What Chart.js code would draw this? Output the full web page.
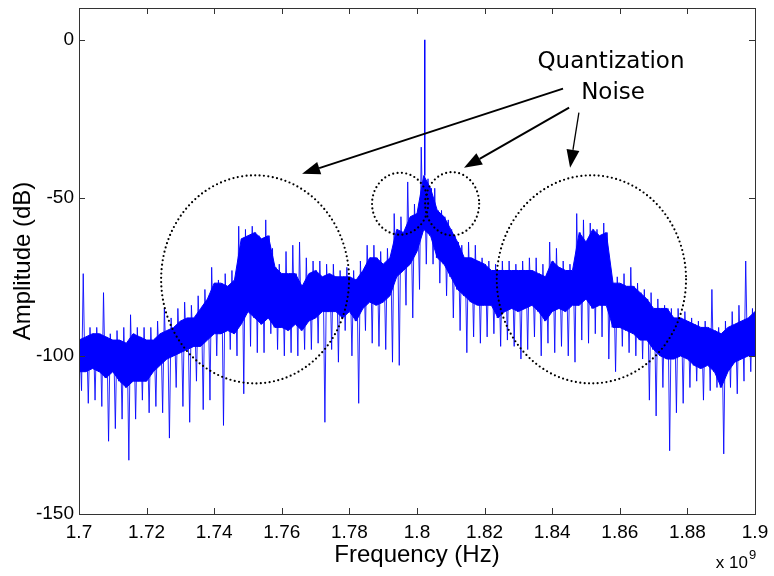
<!DOCTYPE html>
<html lang="en">
<head>
<meta charset="UTF-8">
<title>Quantization Noise Spectrum</title>
<script src="https://cdn.jsdelivr.net/npm/chart.js"></script>
<style>
  body { margin: 0; background: #fff; }
  canvas { display: block; }
</style>
</head>
<body>
<canvas id="spectrum" width="774" height="576"></canvas>
<script>
// frequency bins, in units of 10^9 Hz
const freqs = [
  1.700, 1.702, 1.704, 1.706, 1.708, 1.710, 1.712, 1.714, 1.716, 1.718,
  1.720, 1.722, 1.724, 1.726, 1.728, 1.730, 1.732, 1.734, 1.736, 1.738,
  1.740, 1.742, 1.744, 1.746, 1.748, 1.750, 1.752, 1.754, 1.756, 1.758,
  1.760, 1.762, 1.764, 1.766, 1.768, 1.770, 1.772, 1.774, 1.776, 1.778,
  1.780, 1.782, 1.784, 1.786, 1.788, 1.790, 1.792, 1.794, 1.796, 1.798,
  1.800, 1.802, 1.804, 1.806, 1.808, 1.810, 1.812, 1.814, 1.816, 1.818,
  1.820, 1.822, 1.824, 1.826, 1.828, 1.830, 1.832, 1.834, 1.836, 1.838,
  1.840, 1.842, 1.844, 1.846, 1.848, 1.850, 1.852, 1.854, 1.856, 1.858,
  1.860, 1.862, 1.864, 1.866, 1.868, 1.870, 1.872, 1.874, 1.876, 1.878,
  1.880, 1.882, 1.884, 1.886, 1.888, 1.890, 1.892, 1.894, 1.896, 1.898,
  1.900
];

// upper edge of the dense noise band (dB)
const coreTop = [
  -95, -94, -93, -93, -94, -95, -95, -96, -93, -94,
  -95, -95, -93, -92, -91, -89, -88, -88, -85, -82,
  -77, -77, -78, -76, -63, -62, -61, -63, -62, -72,
  -74, -74, -74, -78, -74, -73, -75, -74, -75, -75,
  -75, -76, -73, -69, -69, -71, -69, -60, -61, -56,
  -55, -43, -47, -54, -56, -60, -64, -69, -69, -70,
  -71, -73, -73, -73, -73, -73, -73, -73, -74, -75,
  -70, -72, -73, -73, -61, -64, -60, -62, -61, -77,
  -77, -78, -78, -80, -82, -85, -85, -85, -88, -88,
  -89, -90, -91, -91, -92, -93, -91, -90, -89, -88,
  -86
];

// lower edge of the dense noise band (dB)
const coreBot = [
  -105, -105, -104, -105, -107, -105, -108, -110, -108, -108,
  -108, -105, -103, -101, -100, -99, -98, -97, -97, -95,
  -93, -93, -92, -93, -90, -86, -88, -90, -88, -91,
  -91, -92, -90, -92, -89, -88, -86, -86, -86, -88,
  -86, -89, -85, -83, -84, -83, -81, -75, -73, -71,
  -67, -60, -62, -69, -71, -75, -79, -81, -83, -84,
  -84, -84, -88, -86, -85, -86, -85, -84, -86, -89,
  -86, -85, -86, -84, -84, -82, -85, -84, -84, -91,
  -91, -92, -93, -95, -95, -98, -100, -101, -101, -100,
  -101, -103, -104, -103, -105, -110, -105, -102, -101, -100,
  -100
];

// highest spike in each bin (dB)
const tipHi = [
  -93, -74, -91, -91, -80, -93, -92, -91, -87, -91,
  -91, -91, -89, -85, -88, -85, -83, -84, -81, -79,
  -72, -76, -74, -73, -59, -60, -59, -62, -57, -66,
  -71, -67, -65, -64, -69, -70, -70, -71, -71, -73,
  -72, -73, -70, -65, -65, -67, -66, -55, -56, -45,
  -52, -34, -44, -47, -54, -57, -62, -65, -64, -65,
  -69, -70, -71, -70, -70, -71, -70, -69, -69, -71,
  -64, -66, -70, -71, -55, -57, -58, -60, -58, -72,
  -75, -74, -72, -77, -79, -80, -82, -84, -85, -85,
  -86, -88, -89, -89, -79, -91, -89, -86, -84, -70,
  -85
];

// deepest dip in each bin (dB)
const tipLo = [
  -111, -115, -114, -116, -127, -123, -120, -133, -120, -114,
  -118, -116, -118, -126, -110, -116, -121, -108, -117, -114,
  -100, -122, -98, -100, -112, -97, -99, -99, -93, -98,
  -100, -99, -100, -98, -98, -96, -121, -98, -102, -92,
  -100, -115, -92, -96, -97, -98, -102, -103, -84, -88,
  -79, -71, -71, -77, -81, -88, -92, -99, -94, -96,
  -94, -93, -97, -95, -97, -101, -98, -94, -100, -96,
  -99, -97, -100, -102, -95, -96, -93, -94, -101, -105,
  -97, -99, -100, -101, -114, -119, -110, -130, -118, -115,
  -110, -108, -114, -111, -110, -131, -110, -112, -108, -105,
  -101
];

// the carrier tone
const carrierFreq = 1.8023;
const carrierLevel = 0;

const xTicks = [1.7, 1.72, 1.74, 1.76, 1.78, 1.8, 1.82, 1.84, 1.86, 1.88, 1.9];
const yTicks = [-150, -100, -50, 0];

// dotted rings: centre and radii in data units
const rings = [
  { f: 1.7521, db: -75.8, rf: 0.0278, rdb: 32.9 },
  { f: 1.8516, db: -75.8, rf: 0.0280, rdb: 32.9 },
  { f: 1.7950, db: -51.9, rf: 0.0083, rdb: 9.8 },
  { f: 1.8104, db: -51.9, rf: 0.0080, rdb: 10.0 }
];

const arrows = [
  { from: [1.8432, -15.5], to: [1.7660, -42.4], w: 2 },
  { from: [1.8450, -21.5], to: [1.8139, -40.5], w: 2 },
  { from: [1.8479, -23.1], to: [1.8453, -40.5], w: 1.3 }
];

const noteLines = [
  { text: 'Quantization', f: 1.8574, db: -8.9 },
  { text: 'Noise', f: 1.8580, db: -18.7 }
];

// trace that runs tip -> band bottom -> band top -> dip in every bin,
// so the band reads as a dense noisy trace
const trace = [];
freqs.forEach((f, i) => {
  trace.push({ x: f - 0.00075, y: tipHi[i] });
  trace.push({ x: f - 0.00025, y: coreBot[i] });
  trace.push({ x: f + 0.00025, y: coreTop[i] });
  trace.push({ x: f + 0.00075, y: tipLo[i] });
});

const carrierLine = [
  { x: carrierFreq, y: coreTop[freqs.indexOf(1.802)] },
  { x: carrierFreq, y: carrierLevel }
];

function drawArrow(ctx, x1, y1, x2, y2, lw, len, half) {
  const ang = Math.atan2(y2 - y1, x2 - x1);
  const bx = x2 - len * Math.cos(ang);
  const by = y2 - len * Math.sin(ang);
  ctx.lineWidth = lw;
  ctx.beginPath();
  ctx.moveTo(x1, y1);
  ctx.lineTo(bx, by);
  ctx.stroke();
  ctx.beginPath();
  ctx.moveTo(x2, y2);
  ctx.lineTo(bx + half * Math.sin(ang), by - half * Math.cos(ang));
  ctx.lineTo(bx - half * Math.sin(ang), by + half * Math.cos(ang));
  ctx.closePath();
  ctx.fill();
}

const overlay = {
  id: 'overlay',
  afterDatasetsDraw(chart) {
    const { ctx, chartArea: a, scales: { x, y } } = chart;
    ctx.save();

    // frame and inward ticks (matlab style)
    ctx.strokeStyle = '#333';
    ctx.lineWidth = 1;
    ctx.strokeRect(a.left + 0.5, a.top + 0.5, a.right - a.left, a.bottom - a.top);
    ctx.beginPath();
    xTicks.slice(1, -1).forEach(v => {
      const px = Math.round(x.getPixelForValue(v)) + 0.5;
      ctx.moveTo(px, a.bottom); ctx.lineTo(px, a.bottom - 6);
      ctx.moveTo(px, a.top); ctx.lineTo(px, a.top + 6);
    });
    yTicks.forEach(v => {
      const py = Math.round(y.getPixelForValue(v)) + 0.5;
      if (py > a.bottom - 1) return;
      ctx.moveTo(a.left, py); ctx.lineTo(a.left + 6, py);
      ctx.moveTo(a.right, py); ctx.lineTo(a.right - 6, py);
    });
    ctx.stroke();

    // dotted rings
    ctx.strokeStyle = '#000';
    ctx.lineWidth = 2.2;
    ctx.lineCap = 'round';
    ctx.setLineDash([0, 4.4]);
    rings.forEach(r => {
      const cx = x.getPixelForValue(r.f);
      const cy = y.getPixelForValue(r.db);
      const rx = x.getPixelForValue(r.f + r.rf) - cx;
      const ry = y.getPixelForValue(r.db - r.rdb) - cy;
      ctx.beginPath();
      ctx.ellipse(cx, cy, rx, ry, 0, 0, Math.PI * 2);
      ctx.stroke();
    });
    ctx.setLineDash([]);
    ctx.lineCap = 'butt';

    // arrows
    ctx.fillStyle = '#000';
    arrows.forEach(ar => {
      drawArrow(ctx,
        x.getPixelForValue(ar.from[0]), y.getPixelForValue(ar.from[1]),
        x.getPixelForValue(ar.to[0]), y.getPixelForValue(ar.to[1]),
        ar.w, 18, 6.5);
    });

    // note text
    ctx.font = "23px 'DejaVu Sans'";
    ctx.textAlign = 'center';
    ctx.textBaseline = 'alphabetic';
    noteLines.forEach(n => {
      ctx.fillText(n.text, x.getPixelForValue(n.f), y.getPixelForValue(n.db));
    });

    // axis multiplier
    ctx.font = "17px 'Liberation Sans'";
    ctx.textAlign = 'right';
    ctx.fillText('x 10', a.right - 7, a.bottom + 54);
    ctx.font = "13px 'Liberation Sans'";
    ctx.textAlign = 'left';
    ctx.fillText('9', a.right - 6, a.bottom + 45);

    ctx.restore();
  }
};

Chart.defaults.font.family = "'Liberation Sans', Arial, sans-serif";
Chart.defaults.color = '#000';

new Chart(document.getElementById('spectrum'), {
  type: 'line',
  data: {
    datasets: [
      {
        data: freqs.map((f, i) => ({ x: f, y: coreTop[i] })),
        borderColor: '#0000ff',
        backgroundColor: '#0000ff',
        borderWidth: 1,
        fill: '+1',
        order: 1
      },
      {
        data: freqs.map((f, i) => ({ x: f, y: coreBot[i] })),
        borderColor: '#0000ff',
        borderWidth: 1,
        fill: false,
        order: 1
      },
      {
        data: trace,
        borderColor: 'rgba(0, 0, 255, 0.85)',
        borderWidth: 1,
        fill: false,
        order: 2
      },
      {
        data: carrierLine,
        borderColor: '#0000ff',
        borderWidth: 1.5,
        fill: false,
        order: 0
      }
    ]
  },
  options: {
    responsive: false,
    animation: false,
    devicePixelRatio: 1,
    layout: { padding: { top: 8, right: 19, left: 0, bottom: 0 } },
    elements: { point: { radius: 0 }, line: { tension: 0 } },
    plugins: { legend: { display: false }, tooltip: { enabled: false } },
    scales: {
      x: {
        type: 'linear',
        min: 1.7,
        max: 1.9,
        afterBuildTicks: s => { s.ticks = xTicks.map(v => ({ value: v })); },
        afterFit: s => { s.height = 62; s.paddingLeft = 0; s.paddingRight = 0; },
        grid: { display: false, drawTicks: false },
        border: { display: false },
        ticks: {
          autoSkip: false,
          maxRotation: 0,
          padding: 7,
          font: { size: 19 },
          callback: v => String(v)
        },
        title: {
          display: true,
          text: 'Frequency (Hz)',
          font: { size: 24 },
          padding: { top: 0, bottom: 6 }
        }
      },
      y: {
        min: -150,
        max: 10,
        afterBuildTicks: s => { s.ticks = yTicks.map(v => ({ value: v })); },
        afterFit: s => { s.width = 79; s.paddingTop = 0; s.paddingBottom = 0; },
        grid: { display: false, drawTicks: false },
        border: { display: false },
        ticks: {
          padding: 5,
          font: { size: 19 },
          callback: v => String(v)
        },
        title: {
          display: true,
          text: 'Amplitude (dB)',
          font: { size: 24 },
          padding: { top: 9, bottom: 0 }
        }
      }
    }
  },
  plugins: [overlay]
});
</script>
</body>
</html>
